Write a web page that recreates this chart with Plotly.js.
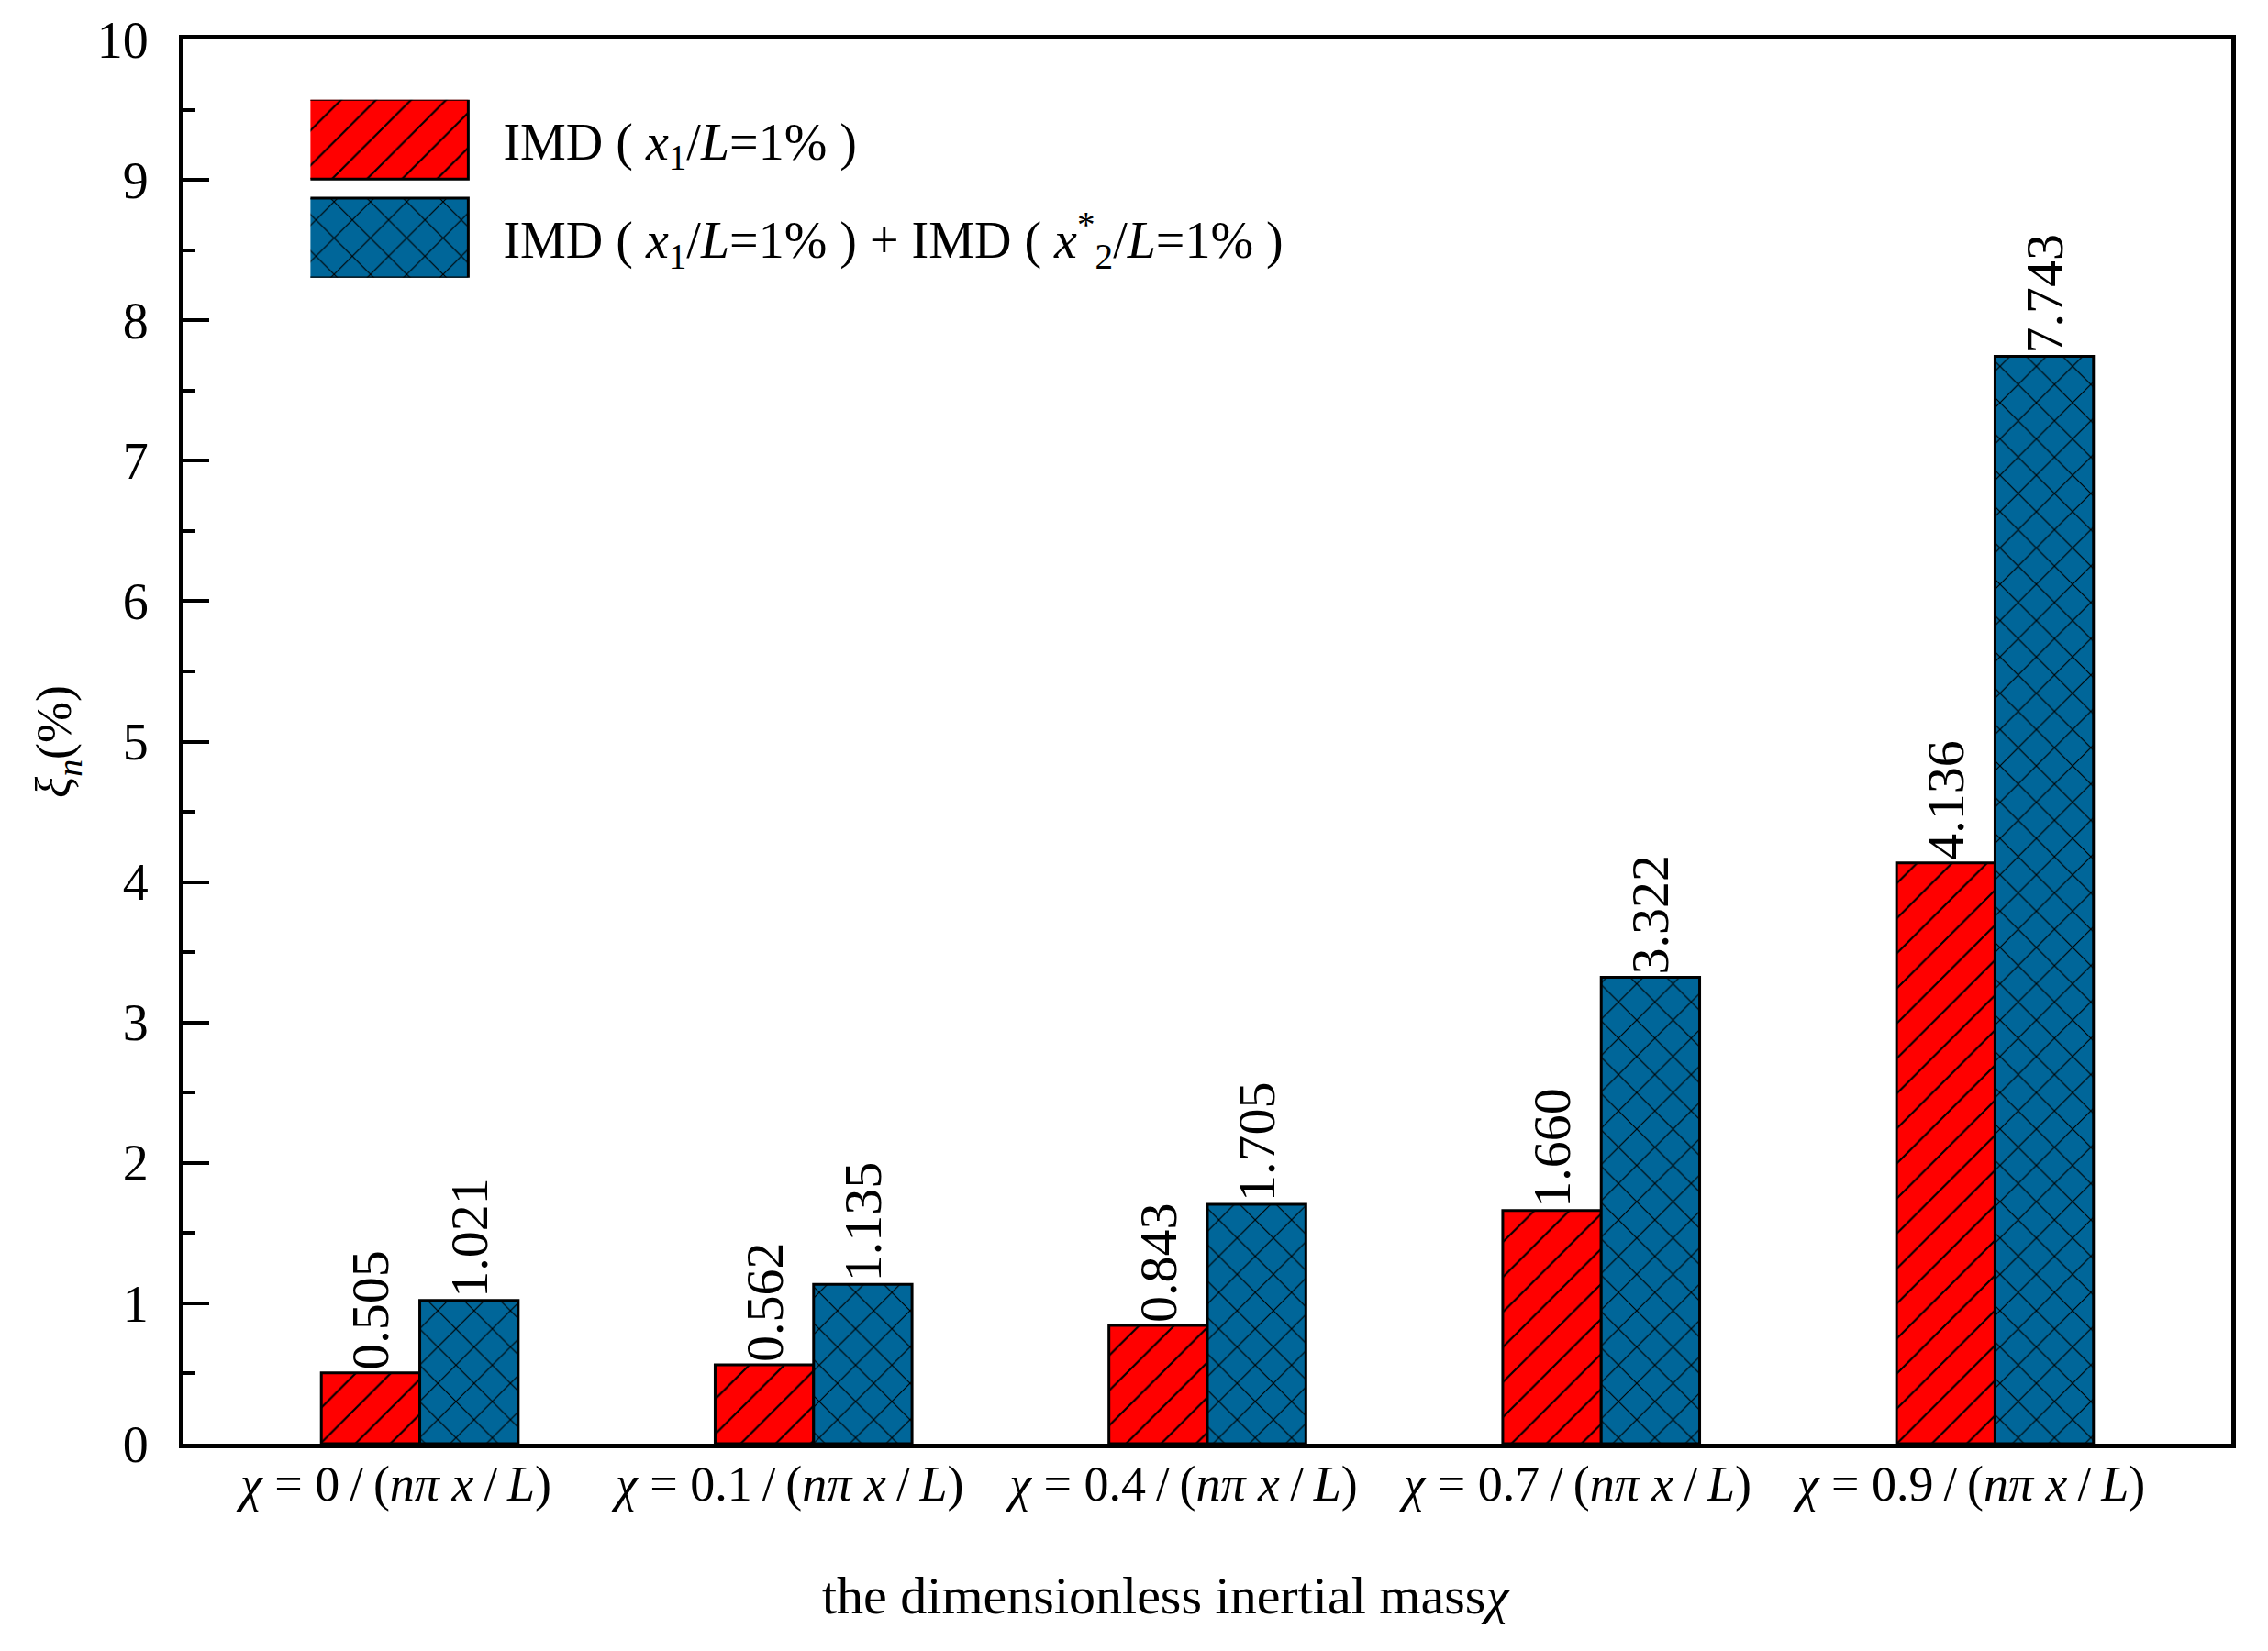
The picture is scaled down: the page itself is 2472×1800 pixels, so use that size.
<!DOCTYPE html>
<html>
<head>
<meta charset="utf-8">
<script src="https://cdn.plot.ly/plotly-3.0.1.min.js"></script>
<style>
  html, body { margin: 0; padding: 0; background: #fff; }
  #chart { width: 2472px; height: 1800px; }
</style>
</head>
<body>
<div id="chart"></div>
<script>
// ---- data ----
var categories = [
  '<i>χ</i> = 0\u2009/\u2009(<i>nπ x</i>\u2009/\u2009<i>L</i>)',
  '<i>χ</i> = 0.1\u2009/\u2009(<i>nπ x</i>\u2009/\u2009<i>L</i>)',
  '<i>χ</i> = 0.4\u2009/\u2009(<i>nπ x</i>\u2009/\u2009<i>L</i>)',
  '<i>χ</i> = 0.7\u2009/\u2009(<i>nπ x</i>\u2009/\u2009<i>L</i>)',
  '<i>χ</i> = 0.9\u2009/\u2009(<i>nπ x</i>\u2009/\u2009<i>L</i>)'
];
var seriesNames = [
  'IMD ( <i>x</i><sub>1</sub>/<i>L</i>=1% )',
  'IMD ( <i>x</i><sub>1</sub>/<i>L</i>=1% ) + IMD ( <i>x</i><sup>*</sup><sub>2</sub>/<i>L</i>=1% )'
];
var singleIMD = [0.505, 0.562, 0.843, 1.660, 4.136];
var doubleIMD = [1.021, 1.135, 1.705, 3.322, 7.743];
var yTickVals = [0, 1, 2, 3, 4, 5, 6, 7, 8, 9, 10];
var xTitle = 'the dimensionless inertial mass<i>χ</i>';
var yTitle = '<i>ξ<sub>n</sub></i>(%)';

var FONT = 'Liberation Serif, Times New Roman, serif';
var FS = 56;

function barTrace(name, vals, color, shape, psize, group) {
  return {
    type: 'bar',
    name: name,
    x: categories,
    y: vals,
    legendgroup: group,
    text: vals.map(function (v) { return v.toFixed(3); }),
    textposition: 'outside',
    textangle: -90,
    constraintext: 'none',
    cliponaxis: false,
    textfont: { family: FONT, size: 58, color: '#000' },
    marker: {
      color: color,
      line: { color: '#000', width: 3 },
      pattern: { shape: shape, fgcolor: '#000', bgcolor: color, size: psize, solidity: 0.08, fillmode: 'replace' }
    },
    hoverinfo: 'none'
  };
}

var data = [
  barTrace(seriesNames[0], singleIMD, '#FF0000', '/', 27, 'a'),
  barTrace(seriesNames[1], doubleIMD, '#006699', 'x', 28, 'b')
];

var layout = {
  width: 2472,
  height: 1800,
  margin: { l: 200, r: 40, t: 43, b: 226, pad: 0 },
  paper_bgcolor: '#fff',
  plot_bgcolor: '#fff',
  font: { family: FONT, size: FS, color: '#000' },
  barmode: 'group',
  bargap: 0.5,
  bargroupgap: 0,
  showlegend: true,
  legend: {
    x: 0.062, y: 0.957, xanchor: 'left', yanchor: 'top',
    bgcolor: 'rgba(0,0,0,0)', borderwidth: 0,
    font: { family: FONT, size: FS, color: '#000' },
    itemwidth: 200,
    traceorder: 'grouped',
    tracegroupgap: 32
  },
  xaxis: {
    type: 'category',
    range: [-0.6, 4.6],
    showline: true, linecolor: '#000', linewidth: 5, mirror: true,
    ticks: '', showgrid: false, zeroline: false,
    ticklabelstandoff: -8,
    ticklabelshift: -26,
    tickfont: { family: FONT, size: 54, color: '#000' },
    automargin: false
  },
  yaxis: {
    range: [0, 10],
    tickvals: yTickVals,
    ticks: 'inside', ticklen: 28, tickwidth: 4, tickcolor: '#000',
    minor: { dtick: 0.5, ticks: 'inside', ticklen: 13, tickwidth: 4, tickcolor: '#000' },
    showline: true, linecolor: '#000', linewidth: 5, mirror: true,
    showgrid: false, zeroline: false,
    ticklabelstandoff: 22,
    tickfont: { family: FONT, size: FS, color: '#000' },
    automargin: false,
    title: { text: yTitle, font: { family: FONT, size: 54, color: '#000' }, standoff: 12 }
  },
  annotations: [{
    text: xTitle,
    xref: 'paper', yref: 'paper',
    x: 0.480, y: -0.108,
    xanchor: 'center', yanchor: 'middle',
    showarrow: false,
    font: { family: FONT, size: 58, color: '#000' }
  }]
};

var config = { displayModeBar: false, staticPlot: true, responsive: false };

function enlargeLegend() {
  var W = 177, H = 87, GAP = 38;
  var barTraces = document.querySelectorAll('.barlayer .trace');
  var items = document.querySelectorAll('.legend .traces');
  items.forEach(function (g, i) {
    var txt = g.querySelector('.legendtext');
    if (!txt) return;
    var tb = txt.getBBox();
    var tctm = txt.getCTM();
    var fill = null;
    if (barTraces[i]) {
      var bp = barTraces[i].querySelector('path');
      if (bp) fill = bp.style.fill;
    }
    g.querySelectorAll('.legendpoints path').forEach(function (p) {
      var m = tctm.inverse().multiply(p.getCTM());
      var x1 = tb.x - GAP - W - m.e;
      var x2 = tb.x - GAP - m.e;
      var d = 'M' + x1 + ',' + (-H / 2) + 'H' + x2 + 'V' + (H / 2) + 'H' + x1 + 'Z';
      p.setAttribute('d', d);
      p.style.strokeWidth = '3px';
      p.style.stroke = '#000';
      if (fill) p.style.fill = fill;
    });
  });
}

Plotly.newPlot('chart', data, layout, config).then(enlargeLegend);
</script>
</body>
</html>
